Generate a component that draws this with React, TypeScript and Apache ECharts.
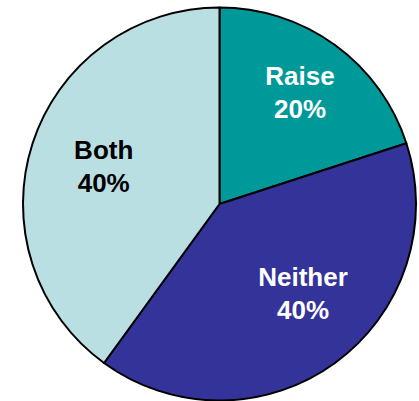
import React, { useEffect, useRef } from "react";
import * as echarts from "echarts";

const categories = ["Raise", "Neither", "Both"];
const values = [20, 40, 40];
const colors = ["#009999", "#333399", "#b9dfe3"];
const labelColors = ["#ffffff", "#ffffff", "#000000"];
const labelOffsets = [
  [21, -29.5],
  [24, 7.5],
  [-19.5, -6.5],
];

export default function App() {
  const ref = useRef<HTMLDivElement>(null);
  useEffect(() => {
    if (!ref.current) return;
    const chart = echarts.init(ref.current, null, { renderer: "svg" });
    chart.setOption({
      animation: false,
      series: [
        {
          type: "pie",
          center: [219.5, 204],
          radius: [0, 196.5],
          startAngle: 90,
          clockwise: true,
          silent: true,
          data: categories.map((name, i) => ({
            name,
            value: values[i],
            itemStyle: { color: colors[i] },
            label: { color: labelColors[i] },
          })),
          itemStyle: { borderColor: "#000000", borderWidth: 2 },
          label: {
            show: true,
            position: "inside",
            formatter: (p: any) => `${p.name}\n${p.value}%`,
            fontFamily: "Liberation Sans, Arial, sans-serif",
            fontWeight: "bold",
            fontSize: 26,
            lineHeight: 33,
            align: "center",
          },
          labelLine: { show: false },
          labelLayout: (params: any) => {
            const o = labelOffsets[params.dataIndex] || [0, 0];
            return { dx: o[0], dy: o[1] };
          },
        },
      ],
    });
    return () => chart.dispose();
  }, []);
  return (
    <div
      ref={ref}
      style={{ position: "fixed", left: 0, top: 0, width: 419, height: 401, background: "#ffffff" }}
    />
  );
}
